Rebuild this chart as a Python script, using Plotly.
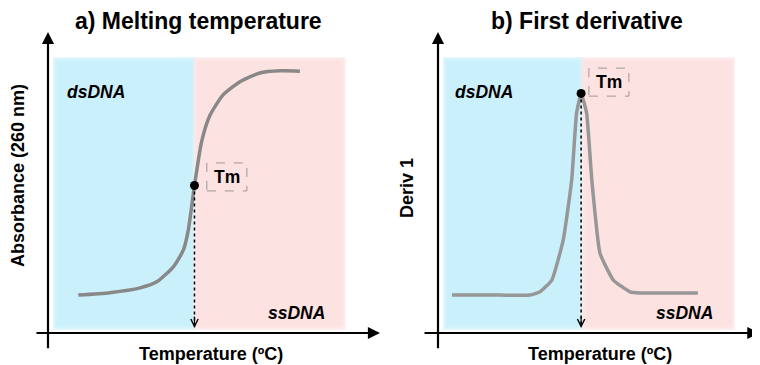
import plotly.graph_objects as go

# a) melting curve (absorbance vs temperature)
temp_a = [19.3, 29, 38.3, 43.4, 48.5, 51.6, 53.1, 55, 57.2, 59.8, 63.8, 69, 75.1, 81.3, 87.4]
absorb = [0.126, 0.134, 0.150, 0.170, 0.220, 0.276, 0.342, 0.49, 0.636, 0.724, 0.791, 0.835, 0.864, 0.871, 0.870]

# b) first derivative
temp_b = [15.3, 30, 39.3, 42.4, 46, 49.5, 52.1, 53.6, 55, 56.7, 58.3, 60.8, 64.9, 70, 73.1, 90.9]
deriv = [0.126, 0.126, 0.126, 0.137, 0.176, 0.309, 0.508, 0.730, 0.796, 0.730, 0.508, 0.265, 0.176, 0.137, 0.133, 0.133]

# melting point
tm = 55
tm_abs = 0.49
tm_deriv = 0.796

titles = ["a) Melting temperature", "b) First derivative"]
ytitles = ["Absorbance (260 nm)", "Deriv 1"]
xtitle = "Temperature (ºC)"

FONT = "Arial, Liberation Sans, sans-serif"
BLUE = "#c8f0fa"
PINK = "#fde1e1"

W, H = 760, 365
OFF = 8  # page body margin


def px(x):
    return (x - OFF) / W


def py(y):
    return 1 - (y - OFF) / H


fig = go.Figure()

for xa, ya, tx, ty, tmy, col, sm in [("x", "y", temp_a, absorb, tm_abs, "#888888", 0.6),
                                     ("x2", "y2", temp_b, deriv, tm_deriv, "#979797", 0.4)]:
    fig.add_trace(go.Scatter(x=tx, y=ty, xaxis=xa, yaxis=ya, mode="lines",
                             line=dict(color=col, width=3.5, shape="spline", smoothing=sm),
                             hoverinfo="skip"))
    fig.add_trace(go.Scatter(x=[tm, tm], y=[tmy, 0.02], xaxis=xa, yaxis=ya, mode="lines",
                             line=dict(color="black", width=1.5, dash="dot"), hoverinfo="skip"))
    fig.add_trace(go.Scatter(x=[tm], y=[tmy], xaxis=xa, yaxis=ya, mode="markers",
                             marker=dict(color="black", size=9), hoverinfo="skip"))


def soft_rect(xref, yref, x0, x1, y0, y1, color, dx, dy):
    # layered rects to imitate the blurred edges
    for i in range(5):
        fig.add_shape(type="rect", xref=xref, yref=yref, layer="below",
                      x0=x0 + i * dx, x1=x1 - i * dx, y0=y0 + i * dy, y1=y1 - i * dy,
                      fillcolor=color, opacity=0.45, line=dict(width=0))


dxa, dxb, dy = 1.3 / 3.255, 1.3 / 3.2525, 1.3 / 301
soft_rect("x", "y", 11.5, 55.3, 0.01, 0.917, BLUE, dxa, dy)
soft_rect("x", "y", 54.7, 101.5, 0.01, 0.917, PINK, dxa, dy)
soft_rect("x2", "y2", 12.5, 55.6, 0.01, 0.917, BLUE, dxb, dy)
soft_rect("x2", "y2", 55.0, 102.3, 0.01, 0.917, PINK, dxb, dy)

# dashed Tm boxes
fig.add_shape(type="rect", xref="x", yref="y", x0=58.8, x1=71.1, y0=0.472, y1=0.565,
              line=dict(color="#999999", width=1, dash="dash"))
fig.add_shape(type="rect", xref="x2", yref="y2", x0=57.4, x1=69.7, y0=0.787, y1=0.880,
              line=dict(color="#999999", width=1, dash="dash"))

ann = []
# axis arrows
for xr, yr, x0 in [("x", "y", 10), ("x2", "y2", 11)]:
    ann.append(dict(xref=xr, yref=yr, axref=xr, ayref=yr, x=x0, y=1.0, ax=x0, ay=-0.056,
                    showarrow=True, arrowhead=2, arrowsize=1.1, arrowwidth=2.2, arrowcolor="black", text=""))
for xr, yr, xs, xt in [("x", "y", 6.0, 112), ("x2", "y2", 6.4, 109.8)]:
    ann.append(dict(xref=xr, yref=yr, axref=xr, ayref=yr, x=xt, y=0, ax=xs, ay=0,
                    showarrow=True, arrowhead=2, arrowsize=1.1, arrowwidth=2.2, arrowcolor="black", text=""))
# dotted line arrowheads
for xr, yr in [("x", "y"), ("x2", "y2")]:
    ann.append(dict(xref=xr, yref=yr, axref=xr, ayref=yr, x=tm, y=0.017, ax=tm, ay=0.06,
                    showarrow=True, arrowhead=5, arrowsize=1.2, arrowwidth=1.2, arrowcolor="black", text=""))

bold = dict(family=FONT, color="black", size=17.5)
# Tm labels
ann.append(dict(xref="x", yref="y", x=64.9, y=0.518, text="<b>Tm</b>", showarrow=False, font=bold))
ann.append(dict(xref="x2", yref="y2", x=63.5, y=0.833, text="<b>Tm</b>", showarrow=False, font=bold))
# region labels
for xr, yr, xl, xrr in [("x", "y", 15.2, 95.7), ("x2", "y2", 15.6, 96.2)]:
    ann.append(dict(xref=xr, yref=yr, x=xl, y=0.802, xanchor="left", text="<b><i>dsDNA</i></b>",
                    showarrow=False, font=bold))
    ann.append(dict(xref=xr, yref=yr, x=xrr, y=0.066, xanchor="right", text="<b><i>ssDNA</i></b>",
                    showarrow=False, font=bold))

# titles and axis titles
for cx, t in zip([198, 587], titles):
    ann.append(dict(xref="paper", yref="paper", x=px(cx), y=py(21), xanchor="center", yanchor="middle",
                    text="<b>" + t + "</b>", showarrow=False, font=dict(family=FONT, color="black", size=23)))
for cx in [211, 600]:
    ann.append(dict(xref="paper", yref="paper", x=px(cx), y=py(354), xanchor="center", yanchor="middle",
                    text="<b>" + xtitle + "</b>", showarrow=False, font=dict(family=FONT, color="black", size=18)))
for cx, cy, t in [(18, 176, ytitles[0]), (407, 188, ytitles[1])]:
    ann.append(dict(xref="paper", yref="paper", x=px(cx), y=py(cy), xanchor="center", yanchor="middle",
                    text="<b>" + t + "</b>", textangle=-90, showarrow=False,
                    font=dict(family=FONT, color="black", size=18)))

ax_common = dict(visible=False, showgrid=False, zeroline=False, fixedrange=True)
fig.update_layout(
    width=W, height=H,
    margin=dict(l=0, r=0, t=0, b=0),
    paper_bgcolor="white", plot_bgcolor="rgba(0,0,0,0)",
    showlegend=False,
    xaxis=dict(domain=[px(48), px(380)], range=[10, 112], **ax_common),
    yaxis=dict(domain=[py(333), py(32)], range=[0, 1], **ax_common),
    xaxis2=dict(domain=[px(438), px(760)], range=[11, 110], **ax_common),
    yaxis2=dict(domain=[py(333), py(32)], range=[0, 1], anchor="x2", **ax_common),
    annotations=ann,
)

fig.write_html("out.html")
